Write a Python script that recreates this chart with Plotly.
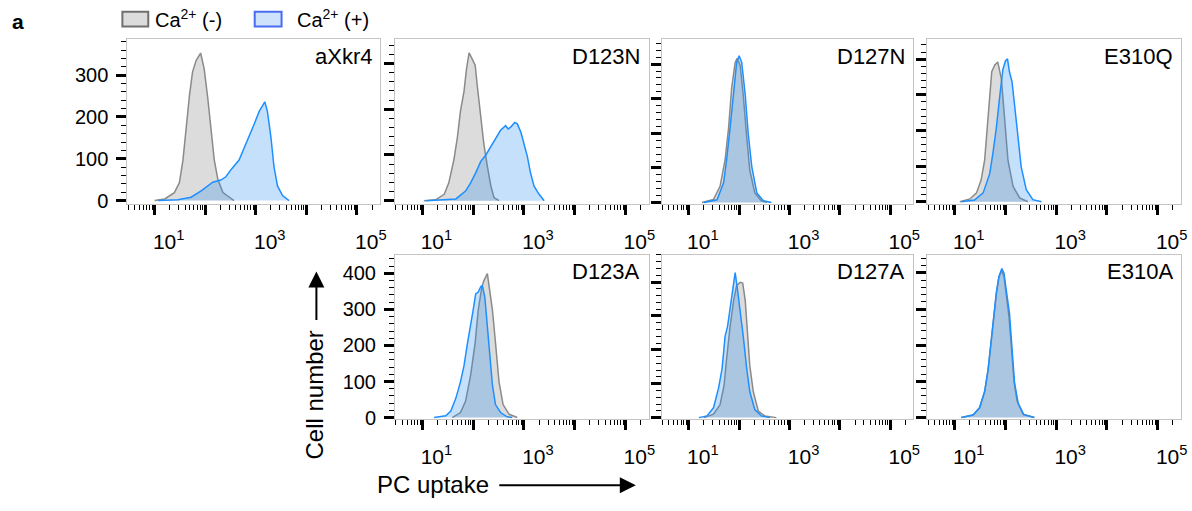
import plotly.graph_objects as go

# ---------------- data (log10 of PC uptake, cell counts) ----------------
PANELS = ["aXkr4", "D123N", "D127N", "E310Q", "D123A", "D127A", "E310A"]
SERIES = ["Ca<sup>2+</sup> (-)", "Ca<sup>2+</sup> (+)"]

AXKR4_NEG_LOG = [1.00, 1.20, 1.39, 1.49, 1.56, 1.62, 1.69, 1.75, 1.82, 1.91, 1.98, 2.05, 2.12, 2.18, 2.25, 2.35, 2.48, 2.57]
AXKR4_NEG_CNT = [0, 4, 19, 43, 97, 175, 253, 308, 335, 353, 315, 246, 167, 97, 51, 19, 8, 0]
AXKR4_POS_LOG = [1.07, 1.46, 1.72, 1.92, 2.15, 2.31, 2.41, 2.51, 2.67, 2.84, 2.97, 3.07, 3.18, 3.23, 3.30, 3.36, 3.43, 3.53, 3.66]
AXKR4_POS_CNT = [0, 2, 8, 23, 44, 49, 57, 74, 97, 144, 183, 214, 236, 214, 152, 82, 35, 12, 0]

D123N_NEG_LOG = [1.03, 1.26, 1.43, 1.52, 1.62, 1.69, 1.75, 1.82, 1.87, 1.92, 1.98, 2.04, 2.08, 2.15, 2.21, 2.28, 2.35, 2.41, 2.51]
D123N_NEG_CNT = [0, 2, 14, 39, 89, 139, 196, 239, 289, 323, 310, 296, 253, 189, 125, 75, 32, 7, 0]
D123N_POS_LOG = [1.07, 1.46, 1.66, 1.85, 1.95, 2.05, 2.15, 2.25, 2.35, 2.44, 2.54, 2.64, 2.69, 2.74, 2.82, 2.87, 2.94, 3.00, 3.07, 3.13, 3.20, 3.30, 3.40]
D123N_POS_CNT = [0, 2, 4, 21, 39, 61, 86, 100, 118, 136, 154, 164, 157, 161, 171, 168, 150, 125, 96, 61, 32, 14, 0]

D127N_NEG_LOG = [1.26, 1.49, 1.62, 1.72, 1.79, 1.85, 1.92, 1.96, 2.02, 2.08, 2.15, 2.21, 2.31, 2.44, 2.55]
D127N_NEG_CNT = [0, 9, 47, 123, 217, 330, 405, 417, 396, 311, 189, 94, 28, 5, 0]
D127N_POS_LOG = [1.30, 1.56, 1.69, 1.75, 1.82, 1.89, 1.95, 2.00, 2.05, 2.12, 2.18, 2.25, 2.35, 2.48, 2.64]
D127N_POS_CNT = [0, 8, 57, 123, 217, 330, 405, 424, 405, 311, 198, 104, 28, 5, 0]

E310Q_NEG_LOG = [1.10, 1.30, 1.43, 1.52, 1.59, 1.64, 1.69, 1.73, 1.79, 1.85, 1.92, 1.98, 2.05, 2.15, 2.28, 2.44]
E310Q_NEG_CNT = [0, 8, 25, 61, 117, 209, 301, 365, 384, 392, 344, 226, 116, 43, 11, 0]
E310Q_POS_LOG = [1.13, 1.39, 1.56, 1.69, 1.75, 1.82, 1.89, 1.95, 2.00, 2.04, 2.08, 2.13, 2.18, 2.25, 2.31, 2.41, 2.54, 2.71]
E310Q_POS_CNT = [0, 5, 25, 79, 134, 207, 299, 372, 395, 401, 364, 336, 271, 180, 98, 34, 6, 0]

D123A_NEG_LOG = [1.59, 1.75, 1.85, 1.95, 2.04, 2.10, 2.17, 2.21, 2.28, 2.32, 2.38, 2.44, 2.51, 2.59, 2.71, 2.87]
D123A_NEG_CNT = [0, 14, 45, 117, 208, 298, 361, 379, 399, 361, 298, 208, 99, 36, 9, 0]
D123A_POS_LOG = [1.23, 1.46, 1.56, 1.66, 1.75, 1.82, 1.89, 1.95, 2.00, 2.05, 2.10, 2.15, 2.18, 2.23, 2.28, 2.33, 2.38, 2.44, 2.54, 2.67, 2.77]
D123A_POS_CNT = [0, 5, 18, 54, 99, 144, 208, 253, 298, 343, 348, 363, 366, 334, 253, 163, 90, 36, 14, 2, 0]

D127A_NEG_LOG = [1.30, 1.49, 1.62, 1.70, 1.75, 1.82, 1.89, 1.95, 2.02, 2.07, 2.12, 2.16, 2.21, 2.28, 2.38, 2.51, 2.74]
D127A_NEG_CNT = [0, 10, 38, 96, 173, 270, 346, 390, 399, 397, 346, 260, 154, 77, 19, 5, 0]
D127A_POS_LOG = [1.20, 1.36, 1.49, 1.59, 1.66, 1.72, 1.77, 1.82, 1.87, 1.92, 1.96, 2.02, 2.08, 2.15, 2.21, 2.31, 2.44, 2.61]
D127A_POS_CNT = [0, 5, 29, 87, 144, 240, 270, 318, 375, 428, 385, 318, 241, 144, 77, 24, 5, 0]

E310A_NEG_LOG = [1.13, 1.36, 1.49, 1.59, 1.66, 1.72, 1.77, 1.82, 1.87, 1.92, 1.97, 2.02, 2.07, 2.12, 2.17, 2.23, 2.35, 2.57]
E310A_NEG_CNT = [0, 7, 27, 72, 135, 216, 279, 342, 387, 407, 391, 342, 279, 189, 99, 45, 9, 0]
E310A_POS_LOG = [1.13, 1.36, 1.49, 1.59, 1.66, 1.72, 1.77, 1.82, 1.87, 1.93, 1.97, 2.02, 2.08, 2.13, 2.18, 2.25, 2.36, 2.57]
E310A_POS_CNT = [0, 7, 27, 72, 135, 220, 285, 345, 390, 412, 400, 350, 288, 190, 95, 40, 8, 0]

X_TICK_VALUES = [10, 100, 1000, 10000, 100000]
X_TICK_TEXT = ["10<sup>1</sup>", "", "10<sup>3</sup>", "", "10<sup>5</sup>"]

DATA = {
    "aXkr4": (AXKR4_NEG_LOG, AXKR4_NEG_CNT, AXKR4_POS_LOG, AXKR4_POS_CNT),
    "D123N": (D123N_NEG_LOG, D123N_NEG_CNT, D123N_POS_LOG, D123N_POS_CNT),
    "D127N": (D127N_NEG_LOG, D127N_NEG_CNT, D127N_POS_LOG, D127N_POS_CNT),
    "E310Q": (E310Q_NEG_LOG, E310Q_NEG_CNT, E310Q_POS_LOG, E310Q_POS_CNT),
    "D123A": (D123A_NEG_LOG, D123A_NEG_CNT, D123A_POS_LOG, D123A_POS_CNT),
    "D127A": (D127A_NEG_LOG, D127A_NEG_CNT, D127A_POS_LOG, D127A_POS_CNT),
    "E310A": (E310A_NEG_LOG, E310A_NEG_CNT, E310A_POS_LOG, E310A_POS_CNT),
}

# ---------------- layout ----------------
W, H = 1192, 511
FONT = "Liberation Sans, Arial, sans-serif"
COLS = [(128, 382), (397, 652), (665, 918), (932, 1187)]
ROWS = [(40, 208), (260, 427)]
# panel -> (row, col, y range, show y labels)
PLACE = {
    "aXkr4": (0, 0, [-8, 386], True),
    "D123N": (0, 1, [-7, 353], False),
    "D127N": (0, 2, [-4, 472], False),
    "E310Q": (0, 3, [-6, 456], False),
    "D123A": (1, 1, [-3, 451], True),
    "D127A": (1, 2, [-3, 480], False),
    "E310A": (1, 3, [-3, 450], False),
}

GRAY_LINE = "#8a8a8a"
GRAY_FILL = "rgba(110,110,110,0.24)"
BLUE_LINE = "#1e8fff"
BLUE_FILL = "rgba(40,140,240,0.27)"

minor_x = [m * 10 ** d for d in range(0, 6) for m in range(2, 10)]

fig = go.Figure()
layout = dict(
    width=W, height=H, margin=dict(l=0, r=0, t=0, b=0),
    paper_bgcolor="white", plot_bgcolor="white", showlegend=False,
    font=dict(family=FONT, color="black"),
)
annotations = []

for i, name in enumerate(PANELS):
    k = "" if i == 0 else str(i + 1)
    row, col, yr, ylab = PLACE[name]
    x0, x1 = COLS[col]
    y0, y1 = ROWS[row]
    nl, nc, pl, pc = DATA[name]
    fig.add_trace(go.Scatter(
        x=[10 ** v for v in nl], y=nc, mode="lines", fill="tozeroy",
        fillcolor=GRAY_FILL, line=dict(color=GRAY_LINE, width=1.5),
        name=SERIES[0], xaxis="x" + k, yaxis="y" + k))
    fig.add_trace(go.Scatter(
        x=[10 ** v for v in pl], y=pc, mode="lines", fill="tozeroy",
        fillcolor=BLUE_FILL, line=dict(color=BLUE_LINE, width=1.5),
        name=SERIES[1], xaxis="x" + k, yaxis="y" + k))
    layout["xaxis" + k] = dict(
        domain=[x0 / W, x1 / W], anchor="y" + k, type="log",
        range=[0.46, 5.46], showgrid=False, zeroline=False,
        showline=True, mirror=True, linecolor="#c4c4c4", linewidth=1,
        tickmode="array", tickvals=X_TICK_VALUES, ticktext=X_TICK_TEXT,
        ticks="outside", ticklen=10, tickwidth=3, tickcolor="black",
        ticklabelshift=14, ticklabelstandoff=9,
        tickfont=dict(size=21, family=FONT, color="black"),
        minor=dict(tickmode="array", tickvals=minor_x, ticks="outside",
                   ticklen=5, tickwidth=1, tickcolor="black", showgrid=False),
    )
    layout["yaxis" + k] = dict(
        domain=[1 - y1 / H, 1 - y0 / H], anchor="x" + k, range=yr,
        showgrid=False, zeroline=False,
        showline=True, mirror=True, linecolor="#c4c4c4", linewidth=1,
        tickmode="linear", tick0=0, dtick=100,
        ticks="outside", ticklen=10, tickwidth=3, tickcolor="black",
        showticklabels=ylab, ticklabelstandoff=4,
        tickfont=dict(size=20, family=FONT, color="black"),
        minor=dict(dtick=20, tick0=0, ticks="outside", ticklen=5,
                   tickwidth=1, tickcolor="black", showgrid=False),
    )
    annotations.append(dict(
        text=name, xref="x" + k + " domain", yref="y" + k + " domain",
        x=0.975, y=0.985, xanchor="right", yanchor="top", showarrow=False,
        font=dict(size=22, family=FONT, color="black")))

# axis titles with arrows
annotations += [
    dict(text="Cell number", xref="paper", yref="paper",
         x=316 / W, y=1 - 403 / H, textangle=-90, showarrow=False,
         xanchor="center", yanchor="middle",
         font=dict(size=24, family=FONT, color="black")),
    dict(text="", xref="paper", yref="paper", x=318 / W, y=1 - 277 / H,
         ax=0, ay=50, showarrow=True, arrowhead=2, arrowsize=1.6,
         arrowwidth=2, arrowcolor="black"),
    dict(text="PC uptake", xref="paper", yref="paper",
         x=435 / W, y=1 - 494 / H, showarrow=False,
         xanchor="center", yanchor="middle",
         font=dict(size=24, family=FONT, color="black")),
    dict(text="", xref="paper", yref="paper", x=639 / W, y=1 - 495 / H,
         ax=-138, ay=0, showarrow=True, arrowhead=2, arrowsize=1.6,
         arrowwidth=2, arrowcolor="black"),
    dict(text="<b>a</b>", xref="paper", yref="paper", x=10 / W, y=1 - 22 / H,
         xanchor="left", yanchor="middle", showarrow=False,
         font=dict(size=21, family=FONT, color="black")),
    dict(text=SERIES[0], xref="paper", yref="paper", x=154 / W, y=1 - 19 / H,
         xanchor="left", yanchor="middle", showarrow=False,
         font=dict(size=20, family=FONT, color="black")),
    dict(text=SERIES[1], xref="paper", yref="paper", x=296 / W, y=1 - 19 / H,
         xanchor="left", yanchor="middle", showarrow=False,
         font=dict(size=20, family=FONT, color="black")),
]
layout["annotations"] = annotations
layout["shapes"] = [
    dict(type="rect", xref="paper", yref="paper",
         x0=123 / W, x1=149 / W, y0=1 - 27 / H, y1=1 - 12 / H,
         fillcolor="#dcdcdc", line=dict(color="#707070", width=2)),
    dict(type="rect", xref="paper", yref="paper",
         x0=256 / W, x1=283 / W, y0=1 - 27 / H, y1=1 - 12 / H,
         fillcolor="#cfe2fb", line=dict(color="#4a6cf0", width=2)),
]
fig.update_layout(**layout)
fig.write_html("out.html")
